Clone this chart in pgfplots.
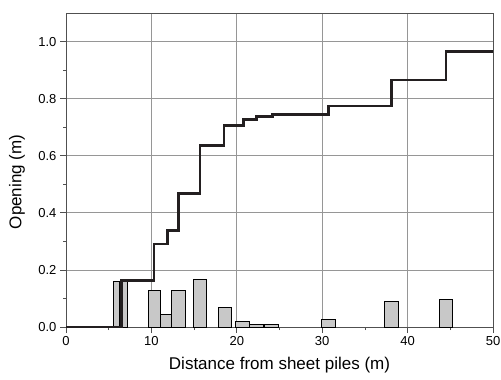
\documentclass[border=0pt]{standalone}
\usepackage{fontspec}
\setmainfont{Liberation Sans}
\usepackage{pgfplots}
\pgfplotsset{compat=1.18}
\definecolor{barfill}{RGB}{200,200,200}
\definecolor{gridc}{RGB}{150,150,150}
\definecolor{axc}{RGB}{80,80,80}
\definecolor{linec}{RGB}{35,31,32}
\begin{document}
\begin{tikzpicture}
\begin{axis}[
  scale only axis, width=427pt, height=314pt,
  xmin=0, xmax=50, ymin=0, ymax=1.1,
  xtick={0,10,...,50}, ytick={0,0.2,0.4,0.6,0.8,1.0},
  minor xtick={5,15,25,35,45}, minor ytick={0.1,0.3,0.5,0.7,0.9},
  tick pos=left, tick align=outside,
  major tick length=6pt, minor tick length=3pt,
  every tick/.style={axc, line width=0.8pt},
  grid=major, major grid style={gridc, line width=0.7pt},
  axis line style={axc, line width=0.8pt},
  /pgf/number format/assume math mode=true,
  ticklabel style={font=\fontsize{13}{13}\selectfont},
  yticklabel style={/pgf/number format/fixed, /pgf/number format/fixed zerofill, /pgf/number format/precision=1},
  xlabel={Distance from sheet piles (m)},
  ylabel={Opening (m)},
  label style={font=\fontsize{17}{17}\selectfont},
  xlabel style={at={(axis description cs:0.5,0)}, anchor=base, yshift=-42pt},
  ylabel style={at={(axis description cs:-0.115,0.462)}, anchor=center, rotate=0},
  clip=false,
]
\pgfplotsset{bar/.style={draw=black, fill=barfill, line width=1pt}}
\addplot[bar] coordinates {(5.6,0)(5.6,0.16)(6.3,0.16)(6.3,0)} --cycle;
\addplot[bar] coordinates {(6.3,0)(6.3,0.16)(7.2,0.16)(7.2,0)} --cycle;
\addplot[bar] coordinates {(9.65,0)(9.65,0.128)(11.1,0.128)(11.1,0)} --cycle;
\addplot[bar] coordinates {(11.1,0)(11.1,0.043)(12.4,0.043)(12.4,0)} --cycle;
\addplot[bar] coordinates {(12.4,0)(12.4,0.128)(13.95,0.128)(13.95,0)} --cycle;
\addplot[bar] coordinates {(14.95,0)(14.95,0.166)(16.5,0.166)(16.5,0)} --cycle;
\addplot[bar] coordinates {(17.8,0)(17.8,0.069)(19.35,0.069)(19.35,0)} --cycle;
\addplot[bar] coordinates {(19.9,0)(19.9,0.02)(21.5,0.02)(21.5,0)} --cycle;
\addplot[bar] coordinates {(21.5,0)(21.5,0.01)(23.1,0.01)(23.1,0)} --cycle;
\addplot[bar] coordinates {(23.3,0)(23.3,0.01)(24.85,0.01)(24.85,0)} --cycle;
\addplot[bar] coordinates {(29.9,0)(29.9,0.028)(31.5,0.028)(31.5,0)} --cycle;
\addplot[bar] coordinates {(37.35,0)(37.35,0.088)(38.9,0.088)(38.9,0)} --cycle;
\addplot[bar] coordinates {(43.7,0)(43.7,0.098)(45.2,0.098)(45.2,0)} --cycle;
\addplot[const plot, linec, line width=2.8pt] coordinates {
(0,0)(6.5,0.163)(10.3,0.291)(11.9,0.338)(13.2,0.469)(15.7,0.635)(18.5,0.705)(20.8,0.727)(22.3,0.737)(24.2,0.745)(30.7,0.774)(38.1,0.865)(44.5,0.965)(50,0.965)};
\end{axis}
\pgfresetboundingbox
\useasboundingbox ([shift={(-66pt,-52pt)}]current axis.south west) rectangle ([shift={(8pt,13pt)}]current axis.north east);
\end{tikzpicture}
\end{document}
